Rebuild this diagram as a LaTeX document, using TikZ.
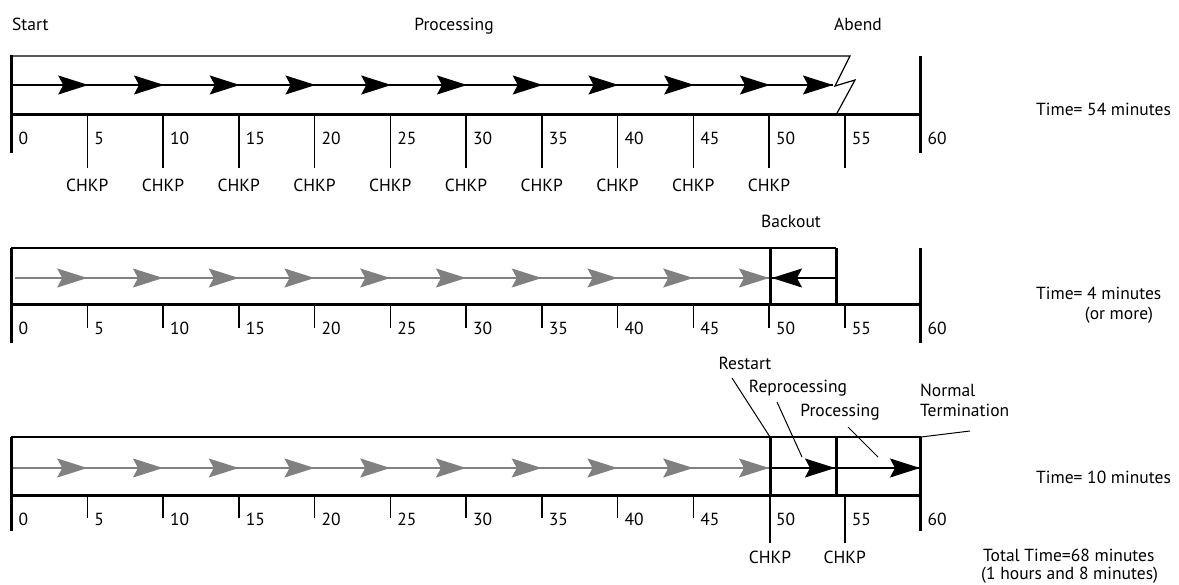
\documentclass[tikz,border=0pt]{standalone}
\usepackage{fontspec}
\setmainfont{PT Sans}
\usetikzlibrary{arrows.meta}
\definecolor{flowgray}{RGB}{128,128,128}
\tikzset{
  lbl/.style={font=\fontsize{17.5}{20}\selectfont, inner sep=0pt},
  axis/.style={line width=3pt},
  tickline/.style={line width=1.5pt},
  frame/.style={line width=2pt},
  thinframe/.style={line width=1.2pt},
  leader/.style={line width=1pt},
  flowline/.style={line width=1.3pt},
  tip/.style={line width=1.3pt, -{Stealth[length=30pt,width=19pt,inset=5pt]}},
  oldtip/.style={tip, draw=flowgray, fill=flowgray},
}
% position of minute m on the time axis
\newcommand{\tx}[1]{(11.5+15.15*#1)}
\begin{document}
\begin{tikzpicture}[x=1pt,y=-1pt]
\useasboundingbox[fill=white] (0,0) rectangle (1179,585);

% ---------- first run: processing until the abend ----------
\node[lbl,anchor=base west] (start) at (12,31) {Start};
\node[lbl,anchor=base] (proc1) at (454,31) {Processing};
\node[lbl,anchor=base] (abend) at (858,31) {Abend};
\draw[thinframe] (11,56) -- (850,56) -- (835,86) -- (855,80) -- (836,115);
\draw[flowline] (11,85) -- (833,85);
\foreach \m in {5,10,...,50}
  \draw[tip] ({\tx{\m}+1-31},85) -- ({\tx{\m}+1},85);
\draw[tip] (802,85) -- (833,85);
\draw[axis] (11,55) -- (11,153);
\draw[axis] (11,115) -- (920,115);
\draw[axis] (920,56) -- (920,153);
\foreach \m in {5,10,...,55}
  \draw[tickline] ({\tx{\m}},115) -- ({\tx{\m}},168);
\foreach \m in {0,5,...,60}
  \node[lbl,anchor=base west] (a\m) at ({\tx{\m}+7},145) {\m};
\foreach \m in {5,10,...,50}
  \node[lbl,anchor=base] (ca\m) at ({\tx{\m}},192) {CHKP};
\node[lbl,anchor=base west] (time1) at (1036,116) {Time= 54 minutes};

% ---------- backout to the last checkpoint ----------
\node[lbl,anchor=base] (backout) at (791,228) {Backout};
\draw[flowline, flowgray] (15,278) -- (770,278);
\foreach \m in {5,10,...,50}
  \draw[oldtip] ({\tx{\m}-30},278) -- ({\tx{\m}},278);
\draw[flowline] (836,278) -- (772,278);
\draw[tip] (803,278) -- (772,278);
\draw[frame] (11,248) -- (836,248);
\draw[axis] (770,248) -- (770,305);
\draw[axis] (836,248) -- (836,305);
\draw[axis] (11,248) -- (11,343);
\draw[axis] (11,305) -- (920,305);
\draw[axis] (920,248) -- (920,343);
\foreach \m in {5,10,...,55}
  \draw[tickline] ({\tx{\m}},305) -- ({\tx{\m}},328);
\foreach \m in {0,5,...,60}
  \node[lbl,anchor=base west] (b\m) at ({\tx{\m}+7},335) {\m};
\node[lbl,anchor=base west] (time2) at (1036,300) {Time= 4 minutes};
\node[lbl,anchor=base] (more) at (1119,320) {(or more)};

% ---------- restart, reprocessing and normal end ----------
\node[lbl,anchor=base] (restart) at (745,370) {Restart};
\node[lbl,anchor=base] (reproc) at (798,393) {Reprocessing};
\node[lbl,anchor=base] (proc3) at (840,417) {Processing};
\node[lbl,anchor=base west] (normal) at (920,397) {Normal};
\node[lbl,anchor=base west] (term) at (920,417) {Termination};
\draw[flowline, flowgray] (11,468) -- (770,468);
\foreach \m in {5,10,...,50}
  \draw[oldtip] ({\tx{\m}-30},468) -- ({\tx{\m}},468);
\draw[flowline] (770,468) -- (921,468);
\draw[tip] (804,468) -- (835,468);
\draw[tip] (889,468) -- (920,468);
\draw[frame] (11,437) -- (921,437);
\draw[axis] (770,437) -- (770,495);
\draw[axis] (836,437) -- (836,495);
\draw[axis] (11,437) -- (11,531);
\draw[axis] (11,495) -- (920,495);
\draw[axis] (920,437) -- (920,531);
\foreach \m in {5,10,...,45}
  \draw[tickline] ({\tx{\m}},495) -- ({\tx{\m}},518);
\draw[tickline] (770,495) -- (770,543);
\draw[tickline] ({\tx{55}},495) -- ({\tx{55}},543);
\foreach \m in {0,5,...,60}
  \node[lbl,anchor=base west] (c\m) at ({\tx{\m}+7},525) {\m};
\node[lbl,anchor=base] (cc50) at (770,563) {CHKP};
\node[lbl,anchor=base] (cc55) at ({\tx{55}},563) {CHKP};
\coordinate (restartpt) at (770,437);
\coordinate (reprocpt) at (802,457);
\coordinate (procpt) at (878,457);
\coordinate (endpt) at (921,437);
\draw[leader] (732,378) -- (restartpt);
\draw[leader] (777,402) -- (reprocpt);
\draw[leader] (848,427) -- (procpt);
\draw[leader] (endpt) -- (970,431);
\node[lbl,anchor=base west] (time3) at (1036,483) {Time= 10 minutes};
\node[lbl,anchor=base west] (total) at (983,561) {Total Time=68 minutes};
\node[lbl,anchor=base west] (hours) at (981,579) {(1 hours and 8 minutes)};
\end{tikzpicture}
\end{document}
